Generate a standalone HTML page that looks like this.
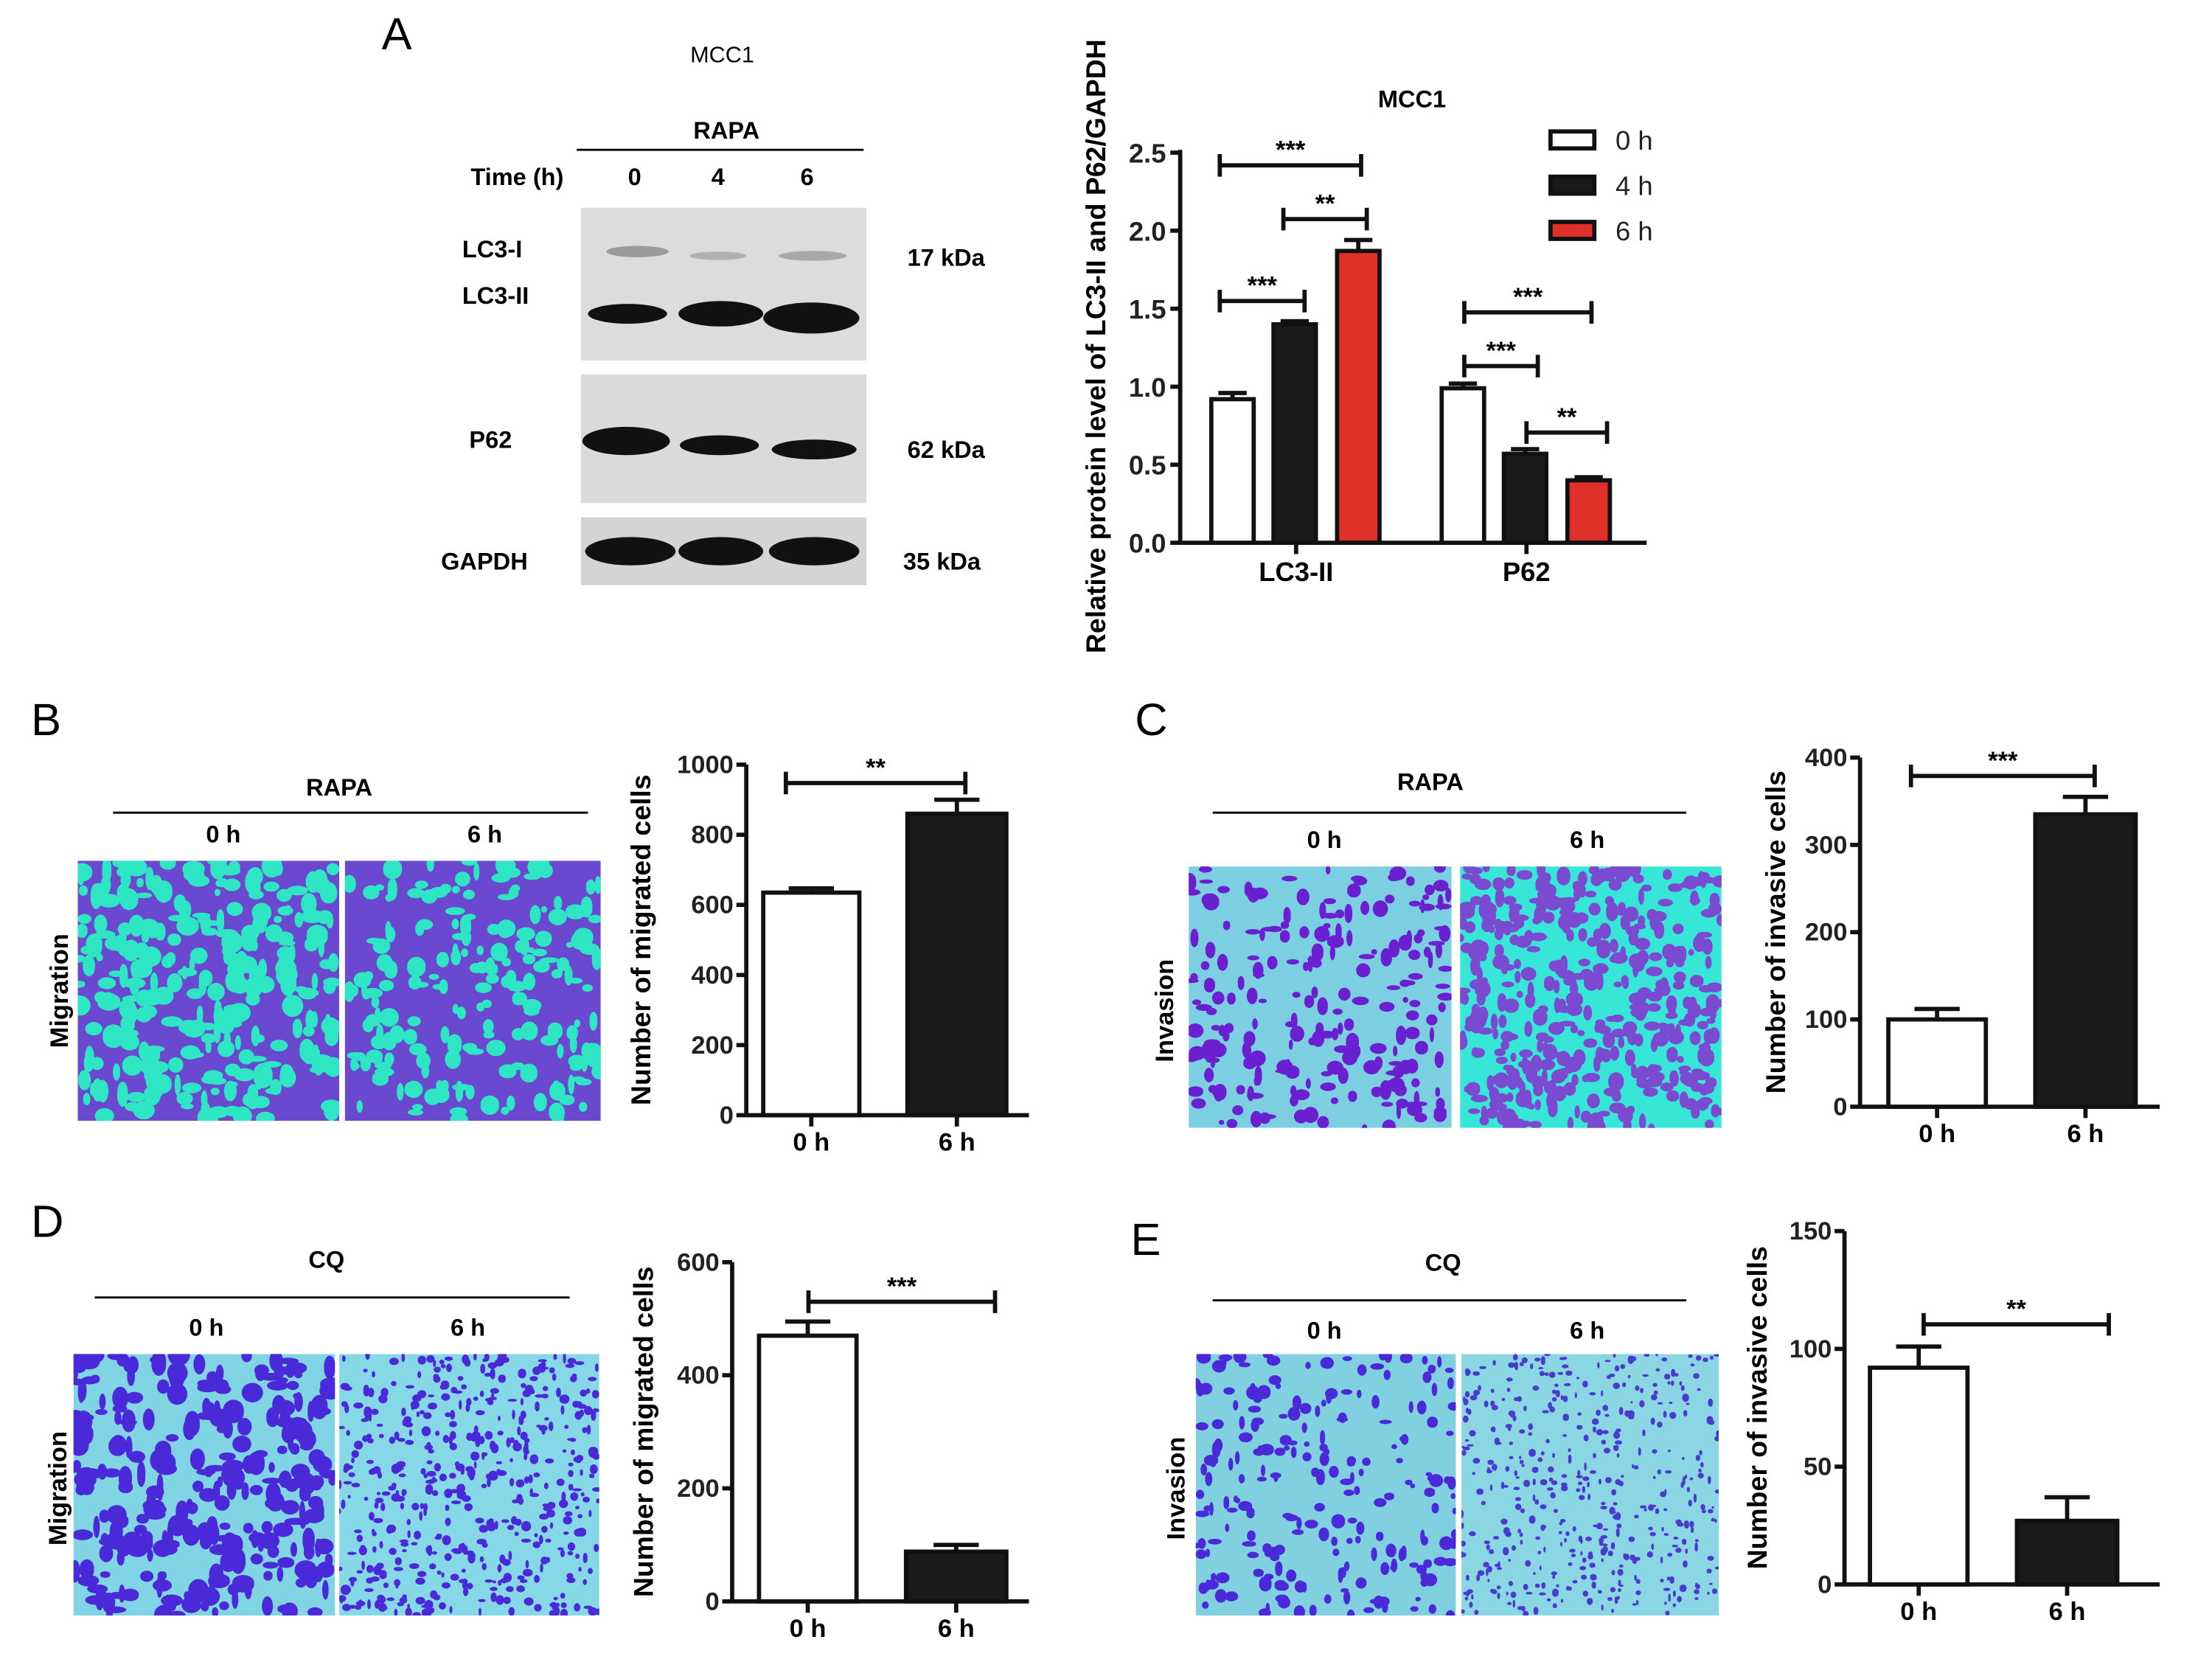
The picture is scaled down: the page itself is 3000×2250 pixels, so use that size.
<!DOCTYPE html>
<html><head><meta charset="utf-8">
<style>
html,body{margin:0;padding:0;background:#fff;}
svg{display:block;}
text{font-family:"Liberation Sans",sans-serif;}
.b{font-weight:bold;}
</style></head>
<body>
<svg id="fig" width="3000" height="2250" viewBox="0 0 1565 1173.75" xmlns="http://www.w3.org/2000/svg">
<g id="static">
  <text x="270" y="35" font-size="32">A</text>
  <text x="22" y="520" font-size="32">B</text>
  <text x="803" y="520" font-size="32">C</text>
  <text x="22" y="875" font-size="32">D</text>
  <text x="800" y="888" font-size="32">E</text>

  <!-- western blot -->
  <text x="511" y="44" font-size="16" text-anchor="middle">MCC1</text>
  <text x="514" y="98" font-size="17" class="b" text-anchor="middle">RAPA</text>
  <line x1="408" y1="106" x2="611" y2="106" stroke="#000" stroke-width="1.5"/>
  <text x="333" y="131" font-size="17" class="b">Time (h)</text>
  <text x="449" y="131" font-size="17" class="b" text-anchor="middle">0</text>
  <text x="508" y="131" font-size="17" class="b" text-anchor="middle">4</text>
  <text x="571" y="131" font-size="17" class="b" text-anchor="middle">6</text>
  <text x="327" y="182" font-size="17" class="b">LC3-I</text>
  <text x="327" y="215" font-size="17" class="b">LC3-II</text>
  <text x="332" y="317" font-size="17" class="b">P62</text>
  <text x="312" y="403" font-size="17" class="b">GAPDH</text>
  <text x="642" y="188" font-size="17" class="b">17 kDa</text>
  <text x="642" y="324" font-size="17" class="b">62 kDa</text>
  <text x="639" y="403" font-size="17" class="b">35 kDa</text>
  <rect x="411" y="147" width="202" height="108" fill="#dcdcdc"/>
  <rect x="411" y="265" width="202" height="91" fill="#dadada"/>
  <rect x="411" y="366" width="202" height="48" fill="#d4d4d4"/>
  <g fill="#111">
    <ellipse cx="451" cy="178" rx="22" ry="4" fill="#9a9a9a"/>
    <ellipse cx="508" cy="181" rx="20" ry="3" fill="#b0b0b0"/>
    <ellipse cx="575" cy="181" rx="24" ry="3.5" fill="#a8a8a8"/>
    <ellipse cx="444" cy="222" rx="28" ry="7"/>
    <ellipse cx="510" cy="222" rx="30" ry="9"/>
    <ellipse cx="574" cy="225" rx="34" ry="11"/>
    <ellipse cx="443" cy="312" rx="31" ry="10"/>
    <ellipse cx="509" cy="315" rx="28" ry="7"/>
    <ellipse cx="576" cy="318" rx="30" ry="7"/>
    <ellipse cx="446" cy="390" rx="32" ry="10"/>
    <ellipse cx="510" cy="390" rx="30" ry="10"/>
    <ellipse cx="576" cy="390" rx="32" ry="10"/>
  </g>

  <!-- micrograph headers -->
  <text x="240" y="563" font-size="17" class="b" text-anchor="middle">RAPA</text>
  <line x1="80" y1="575" x2="416" y2="575" stroke="#000" stroke-width="1.5"/>
  <text x="158" y="596" font-size="17" class="b" text-anchor="middle">0 h</text>
  <text x="343" y="596" font-size="17" class="b" text-anchor="middle">6 h</text>
  <text x="48" y="701" font-size="18" class="b" text-anchor="middle" transform="rotate(-90 48 701)">Migration</text>

  <text x="1012" y="559" font-size="17" class="b" text-anchor="middle">RAPA</text>
  <line x1="858" y1="575" x2="1193" y2="575" stroke="#000" stroke-width="1.5"/>
  <text x="937" y="600" font-size="17" class="b" text-anchor="middle">0 h</text>
  <text x="1123" y="600" font-size="17" class="b" text-anchor="middle">6 h</text>
  <text x="830" y="715" font-size="18" class="b" text-anchor="middle" transform="rotate(-90 830 715)">Invasion</text>

  <text x="231" y="897" font-size="17" class="b" text-anchor="middle">CQ</text>
  <line x1="67" y1="918" x2="403" y2="918" stroke="#000" stroke-width="1.5"/>
  <text x="146" y="945" font-size="17" class="b" text-anchor="middle">0 h</text>
  <text x="331" y="945" font-size="17" class="b" text-anchor="middle">6 h</text>
  <text x="47" y="1053" font-size="18" class="b" text-anchor="middle" transform="rotate(-90 47 1053)">Migration</text>

  <text x="1021" y="899" font-size="17" class="b" text-anchor="middle">CQ</text>
  <line x1="858" y1="920" x2="1193" y2="920" stroke="#000" stroke-width="1.5"/>
  <text x="937" y="947" font-size="17" class="b" text-anchor="middle">0 h</text>
  <text x="1123" y="947" font-size="17" class="b" text-anchor="middle">6 h</text>
  <text x="838" y="1053" font-size="18" class="b" text-anchor="middle" transform="rotate(-90 838 1053)">Invasion</text>
</g>
<g id="micro"></g>
<g id="charts"></g>
</svg>
<script>
// ---- Panel A data ----
const aGroups = ["LC3-II", "P62"];
const aSeries = ["0 h", "4 h", "6 h"];
const aValues0 = [0.92, 0.99];
const aValues4 = [1.40, 0.57];
const aValues6 = [1.87, 0.40];
const aErr0 = [0.04, 0.03];
const aErr4 = [0.02, 0.03];
const aErr6 = [0.07, 0.02];
const aTicks = [0, 0.5, 1.0, 1.5, 2.0, 2.5];
const aTickLabels = ["0.0", "0.5", "1.0", "1.5", "2.0", "2.5"];
// ---- Panels B-E data ----
const bCats = ["0 h", "6 h"]; const bValues = [635, 860]; const bErr = [12, 40]; const bTicks = [0, 200, 400, 600, 800, 1000];
const cCats = ["0 h", "6 h"]; const cValues = [100, 335]; const cErr = [12, 20]; const cTicks = [0, 100, 200, 300, 400];
const dCats = ["0 h", "6 h"]; const dValues = [470, 88]; const dErr = [25, 12]; const dTicks = [0, 200, 400, 600];
const eCats = ["0 h", "6 h"]; const eValues = [92, 27]; const eErr = [9, 10]; const eTicks = [0, 50, 100, 150];

const NS = "http://www.w3.org/2000/svg";
const charts = document.getElementById('charts');
function mk(tag, attrs, parent, txt) {
  const e = document.createElementNS(NS, tag);
  for (const k in attrs) e.setAttribute(k, attrs[k]);
  if (txt !== undefined) e.textContent = txt;
  (parent || charts).appendChild(e);
  return e;
}
function sig(x1, x2, y, label, parent) {
  mk('line', {x1:x1, y1:y, x2:x2, y2:y, stroke:'#111', 'stroke-width':3}, parent);
  mk('line', {x1:x1, y1:y-8, x2:x1, y2:y+8, stroke:'#111', 'stroke-width':3}, parent);
  mk('line', {x1:x2, y1:y-8, x2:x2, y2:y+8, stroke:'#111', 'stroke-width':3}, parent);
  const t = mk('text', {x:(x1+x2)/2, y:y-5, 'font-size':18, 'font-weight':'bold', 'text-anchor':'middle'}, parent, label);
  
  
}

// ---- Panel A chart ----
(function(){
  const g = mk('g', {});
  
  
  const ax = 835, y0 = 384, yTop = 108, vmax = 2.5;
  const y = v => y0 - (v / vmax) * (y0 - yTop);
  mk('line', {x1:ax, y1:yTop-2, x2:ax, y2:y0, stroke:'#111', 'stroke-width':3}, g);
  mk('line', {x1:ax, y1:y0, x2:1165, y2:y0, stroke:'#111', 'stroke-width':3}, g);
  aTicks.forEach((t, i) => {
    mk('line', {x1:ax-7, y1:y(t), x2:ax, y2:y(t), stroke:'#111', 'stroke-width':3}, g);
    const lb = mk('text', {x:ax-10, y:y(t)+7, 'font-size':19, 'font-weight':'bold', 'text-anchor':'end', fill:'#222'}, g, aTickLabels[i]);
    
    
  });
  const yl = mk('text', {x:782, y:245, 'font-size':19.5, 'font-weight':'bold', 'text-anchor':'middle', transform:'rotate(-90 782 245)'}, g, 'Relative protein level of LC3-II and P62/GAPDH');
  
  
  const tt = mk('text', {x:999, y:76, 'font-size':17, 'font-weight':'bold', 'text-anchor':'middle'}, g, 'MCC1');
  
  
  const groupStart = [857, 1020];
  const offs = [0, 44, 89];
  const bw = 30;
  const fills = ['#fff', '#1a1a1a', '#e0302a'];
  const vals = [aValues0, aValues4, aValues6];
  const errs = [aErr0, aErr4, aErr6];
  aGroups.forEach((grp, gi) => {
    vals.forEach((vs, si) => {
      const x = groupStart[gi] + offs[si];
      const v = vs[gi], e = errs[si][gi];
      const cx = x + bw/2;
      mk('line', {x1:cx, y1:y(v), x2:cx, y2:y(v+e), stroke:'#111', 'stroke-width':3}, g);
      mk('line', {x1:cx-10, y1:y(v+e), x2:cx+10, y2:y(v+e), stroke:'#111', 'stroke-width':3}, g);
      const r = mk('rect', {x:x, y:y(v), width:bw, height:y0-y(v), fill:fills[si], stroke:'#111', 'stroke-width':3}, g);
      
      
    });
    const cx = groupStart[gi] + 60;
    mk('line', {x1:cx, y1:y0, x2:cx, y2:y0+8, stroke:'#111', 'stroke-width':3}, g);
    const xl = mk('text', {x:cx, y:411, 'font-size':19, 'font-weight':'bold', 'text-anchor':'middle'}, g, grp);
    
    
  });
  sig(863, 963, 117, '***', g);
  sig(908, 967, 155, '**', g);
  sig(863, 923, 213, '***', g);
  sig(1036, 1126, 221, '***', g);
  sig(1036, 1088, 259, '***', g);
  sig(1080, 1137, 306, '**', g);
  aSeries.forEach((s, i) => {
    const ly = 99 + i * 32;
    const sw = mk('rect', {x:1097, y:ly-6, width:31, height:12, fill:fills[i], stroke:'#111', 'stroke-width':3}, g);
    
    
    const lt = mk('text', {x:1143, y:ly+7, 'font-size':19, fill:'#222'}, g, s);
    
    
  });
})();

// ---- Two-bar charts ----
function twoBar(name, cats, values, errs, ticks, ax, y0, yTop, xEnd, bars, sigSpec, title, titleX) {
  const g = mk('g', {});
  
  
  const vmax = ticks[ticks.length-1];
  const y = v => y0 - (v / vmax) * (y0 - yTop);
  mk('line', {x1:ax, y1:yTop, x2:ax, y2:y0, stroke:'#111', 'stroke-width':3}, g);
  mk('line', {x1:ax, y1:y0, x2:xEnd, y2:y0, stroke:'#111', 'stroke-width':3}, g);
  ticks.forEach(t => {
    mk('line', {x1:ax-7, y1:y(t), x2:ax, y2:y(t), stroke:'#111', 'stroke-width':3}, g);
    const lb = mk('text', {x:ax-9, y:y(t)+6, 'font-size':18, 'font-weight':'bold', 'text-anchor':'end', fill:'#222'}, g, String(t));
    
    
  });
  const fills = ['#fff', '#1a1a1a'];
  cats.forEach((c, i) => {
    const [x, w] = bars[i];
    const v = values[i], e = errs[i], cx = x + w/2;
    mk('line', {x1:cx, y1:y(v), x2:cx, y2:y(v+e), stroke:'#111', 'stroke-width':3}, g);
    mk('line', {x1:cx-16, y1:y(v+e), x2:cx+16, y2:y(v+e), stroke:'#111', 'stroke-width':3}, g);
    const r = mk('rect', {x:x, y:y(v), width:w, height:y0-y(v), fill:fills[i], stroke:'#111', 'stroke-width':3}, g);
    
    
    mk('line', {x1:cx, y1:y0, x2:cx, y2:y0+8, stroke:'#111', 'stroke-width':3}, g);
    const xl = mk('text', {x:cx, y:y0+25, 'font-size':18, 'font-weight':'bold', 'text-anchor':'middle'}, g, c);
    
    
  });
  sig(sigSpec[0], sigSpec[1], sigSpec[2], sigSpec[3], g);
  const cy = (y0 + yTop) / 2;
  const yt = mk('text', {x:titleX, y:cy, 'font-size':19.5, 'font-weight':'bold', 'text-anchor':'middle', transform:'rotate(-90 '+titleX+' '+cy+')'}, g, title);
  
  
}
twoBar('chart-b', bCats, bValues, bErr, bTicks, 528, 789, 541, 728, [[540,68],[642,70]], [556,683,554,'**'], 'Number of migrated cells', 460);
twoBar('chart-c', cCats, cValues, cErr, cTicks, 1316, 783, 536, 1528, [[1336,69],[1440,71]], [1352,1482,549,'***'], 'Number of invasive cells', 1263);
twoBar('chart-d', dCats, dValues, dErr, dTicks, 518, 1133, 893, 728, [[537,69],[641,71]], [572,704,921,'***'], 'Number of migrated cells', 462);
twoBar('chart-e', eCats, eValues, eErr, eTicks, 1305, 1121, 871, 1528, [[1323,69],[1427,71]], [1361,1492,937,'**'], 'Number of invasive cells', 1250);

// ---- Micrographs (decorative texture) ----
const micro = document.getElementById('micro');
let seed = 12345;
function rnd() { seed = (seed * 1103515245 + 12345) % 2147483648; return seed / 2147483648; }
function microImg(name, x, y, w, h, bg, blob, n, rmin, rmax) {
  const g = document.createElementNS(NS, 'g');
  
  
  micro.appendChild(g);
  const id = 'clip' + name;
  const cp = document.createElementNS(NS, 'clipPath'); cp.setAttribute('id', id);
  const cr = document.createElementNS(NS, 'rect');
  cr.setAttribute('x', x); cr.setAttribute('y', y); cr.setAttribute('width', w); cr.setAttribute('height', h);
  cp.appendChild(cr); g.appendChild(cp);
  const inner = document.createElementNS(NS, 'g'); inner.setAttribute('clip-path', 'url(#' + id + ')'); g.appendChild(inner);
  const bgR = document.createElementNS(NS, 'rect');
  bgR.setAttribute('x', x); bgR.setAttribute('y', y); bgR.setAttribute('width', w); bgR.setAttribute('height', h); bgR.setAttribute('fill', bg);
  inner.appendChild(bgR);
  let d = '';
  for (let i = 0; i < n; i++) {
    const cx = x + rnd() * w, cy = y + rnd() * h;
    const rx = rmin + rnd() * (rmax - rmin), ry = rmin + rnd() * (rmax - rmin);
    d += 'M' + (cx-rx).toFixed(1) + ' ' + cy.toFixed(1) + 'a' + rx.toFixed(1) + ' ' + ry.toFixed(1) + ' 0 1 0 ' + (2*rx).toFixed(1) + ' 0a' + rx.toFixed(1) + ' ' + ry.toFixed(1) + ' 0 1 0 ' + (-2*rx).toFixed(1) + ' 0';
  }
  const p = document.createElementNS(NS, 'path');
  p.setAttribute('d', d); p.setAttribute('fill', blob);
  inner.appendChild(p);
}
microImg('migration-rapa-0h', 55, 609, 185, 184, '#6a48d0', '#2ee6c4', 300, 2, 8);
microImg('migration-rapa-6h', 244, 609, 181, 184, '#6a48d0', '#2ee6c4', 200, 2, 7);
microImg('invasion-rapa-0h', 841, 613, 186, 185, '#7ccfe0', '#6a1fd0', 220, 1.5, 6);
microImg('invasion-rapa-6h', 1033, 613, 185, 185, '#38e6d8', '#7a4ad0', 420, 2, 6);
microImg('migration-cq-0h', 52, 958, 185, 185, '#80d4e4', '#4a2ad8', 300, 2, 8);
microImg('migration-cq-6h', 240, 958, 184, 185, '#86d8e6', '#4a2ad8', 500, 1, 3.5);
microImg('invasion-cq-0h', 846, 958, 184, 185, '#80d0e0', '#4a2ad8', 220, 1.5, 5);
microImg('invasion-cq-6h', 1034, 958, 182, 185, '#8ad6e2', '#4a3ad0', 450, 0.8, 2.5);
</script>
</body></html>
